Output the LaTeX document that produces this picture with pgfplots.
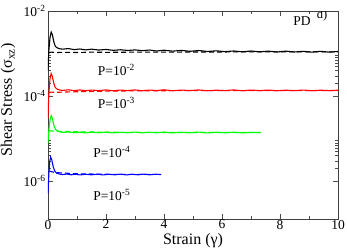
\documentclass[border=0pt]{standalone}
\usepackage{pgfplots}
\pgfplotsset{compat=1.18}
\usetikzlibrary{calc}
\usepackage{fontspec}
\setmainfont{Liberation Serif}
\definecolor{mygreen}{rgb}{0,1,0}
\begin{document}
\begin{tikzpicture}
\begin{axis}[
  name=ax,
  width=290bp, height=208bp, scale only axis,
  xmin=0, xmax=10, ymode=log, ymin=1.3e-7, ymax=1e-2,
  xtick={0,2,4,6,8,10}, minor xtick={1,3,5,7,9},
  ytick={1e-6,1e-4,1e-2},
  yticklabels={10\textsuperscript{-6},10\textsuperscript{-4},10\textsuperscript{-2}},
  minor ytick={2e-6,3e-6,4e-6,5e-6,6e-6,7e-6,8e-6,9e-6,2e-4,3e-4,4e-4,5e-4,6e-4,7e-4,8e-4,9e-4},
  tick align=inside, major tick length=5bp, minor tick length=3bp,
  tick style={black!70, line width=0.5pt},
  axis line style={black!75, line width=0.7pt},
  /pgf/number format/assume math mode=true,
  ticklabel style={font=\fontsize{13.5bp}{15bp}\selectfont},
  label style={font=\fontsize{16bp}{18bp}\selectfont},
  xlabel={Strain (γ)},
  ylabel={Shear Stress (σ\textsubscript{xz})},
  xlabel style={at={(axis description cs:0.5,0)}, anchor=base, yshift=-25.5bp},
  ylabel style={at={(axis description cs:0,0.572)}, anchor=base, yshift=36bp},
  xticklabel style={yshift=2.5bp},
  yticklabel style={xshift=1bp},
  every axis plot/.append style={line width=1.1pt},
  clip=true,
]
% black P=1e-2
\addplot[black] coordinates {
(0,4e-4) (0.03,1.2e-3) (0.07,2.4e-3) (0.11,3.2e-3) (0.15,2.8e-3) (0.2,1.9e-3) (0.25,1.5e-3) (0.3,1.38e-3) (0.4,1.3e-3) (0.5,1.27e-3) (0.7,1.31e-3) (0.9,1.24e-3) (1.1,1.28e-3) (1.3,1.22e-3) (1.5,1.27e-3) (1.75,1.21e-3) (2.0,1.25e-3) (2.25,1.19e-3) (2.5,1.23e-3) (2.75,1.18e-3) (3.0,1.22e-3) (3.25,1.17e-3) (3.5,1.21e-3) (3.75,1.15e-3) (4.0,1.2e-3) (4.3,1.14e-3) (4.6,1.19e-3) (4.9,1.13e-3) (5.2,1.18e-3) (5.5,1.12e-3) (5.8,1.16e-3) (6.1,1.11e-3) (6.4,1.15e-3) (6.7,1.1e-3) (7.0,1.15e-3) (7.3,1.1e-3) (7.6,1.14e-3) (7.9,1.09e-3) (8.2,1.14e-3) (8.5,1.09e-3) (8.8,1.13e-3) (9.1,1.08e-3) (9.4,1.13e-3) (9.7,1.08e-3) (10,1.12e-3)
};
\addplot[black, dash pattern=on 5bp off 3bp] coordinates {
(0.04,1.05e-3) (0.1,1.08e-3) (0.3,1.06e-3) (0.6,1.07e-3) (1.0,1.06e-3) (1.5,1.08e-3) (2.0,1.07e-3) (3,1.08e-3) (4,1.08e-3) (5,1.09e-3) (6,1.09e-3) (7,1.1e-3) (8,1.1e-3) (9,1.1e-3) (10,1.1e-3)
};
% red P=1e-3
\addplot[red] coordinates {
(0,3e-5) (0.03,1.2e-4) (0.07,2.6e-4) (0.11,3.4e-4) (0.15,2.9e-4) (0.2,2.0e-4) (0.25,1.6e-4) (0.3,1.48e-4) (0.4,1.4e-4) (0.5,1.36e-4) (0.7,1.41e-4) (0.9,1.35e-4) (1.1,1.4e-4) (1.3,1.34e-4) (1.5,1.39e-4) (1.75,1.35e-4) (2.0,1.4e-4) (2.25,1.34e-4) (2.5,1.39e-4) (2.75,1.35e-4) (3.0,1.4e-4) (3.25,1.34e-4) (3.5,1.39e-4) (3.75,1.35e-4) (4.0,1.41e-4) (4.3,1.34e-4) (4.6,1.39e-4) (4.9,1.35e-4) (5.2,1.4e-4) (5.5,1.34e-4) (5.8,1.38e-4) (6.1,1.35e-4) (6.4,1.4e-4) (6.7,1.34e-4) (7.0,1.39e-4) (7.3,1.35e-4) (7.6,1.39e-4) (7.9,1.34e-4) (8.2,1.38e-4) (8.5,1.35e-4) (8.8,1.39e-4) (9.1,1.34e-4) (9.4,1.38e-4) (9.7,1.35e-4) (10,1.38e-4)
};
\addplot[red, dash pattern=on 5bp off 3bp] coordinates {
(0.04,1.2e-4) (0.1,1.24e-4) (0.3,1.23e-4) (0.6,1.25e-4) (1.0,1.27e-4) (1.5,1.29e-4) (2.0,1.31e-4) (3,1.33e-4) (4,1.34e-4) (5,1.35e-4) (6,1.35e-4) (7,1.35e-4) (8,1.35e-4) (9,1.35e-4) (10,1.35e-4)
};
% green P=1e-4
\addplot[mygreen] coordinates {
(0,8e-6) (0.03,1.6e-5) (0.07,2.8e-5) (0.11,3.5e-5) (0.15,3.0e-5) (0.2,2.1e-5) (0.25,1.7e-5) (0.3,1.55e-5) (0.4,1.45e-5) (0.5,1.41e-5) (0.7,1.44e-5) (0.9,1.38e-5) (1.1,1.42e-5) (1.3,1.37e-5) (1.5,1.42e-5) (1.75,1.38e-5) (2.0,1.43e-5) (2.25,1.37e-5) (2.5,1.41e-5) (2.75,1.38e-5) (3.0,1.43e-5) (3.25,1.37e-5) (3.5,1.42e-5) (3.75,1.38e-5) (4.0,1.43e-5) (4.3,1.37e-5) (4.6,1.42e-5) (4.9,1.38e-5) (5.2,1.43e-5) (5.5,1.37e-5) (5.8,1.42e-5) (6.1,1.38e-5) (6.4,1.42e-5) (6.7,1.37e-5) (7.0,1.41e-5) (7.35,1.39e-5)
};
\addplot[mygreen, dash pattern=on 5bp off 3bp] coordinates {
(0.04,1.55e-5) (0.1,1.52e-5) (0.3,1.5e-5) (0.6,1.48e-5) (1.0,1.46e-5) (1.5,1.44e-5) (2.0,1.42e-5) (3,1.41e-5) (4,1.4e-5) (5,1.4e-5) (6,1.4e-5) (7.3,1.4e-5)
};
% blue P=1e-5
\addplot[blue] coordinates {
(0,5.2e-7) (0.03,1.5e-6) (0.06,2.9e-6) (0.09,3.7e-6) (0.13,3.2e-6) (0.18,2.2e-6) (0.23,1.75e-6) (0.3,1.55e-6) (0.4,1.48e-6) (0.5,1.44e-6) (0.65,1.48e-6) (0.8,1.42e-6) (0.95,1.47e-6) (1.1,1.41e-6) (1.3,1.46e-6) (1.5,1.42e-6) (1.7,1.47e-6) (1.9,1.41e-6) (2.1,1.46e-6) (2.3,1.42e-6) (2.5,1.47e-6) (2.7,1.41e-6) (2.9,1.46e-6) (3.1,1.42e-6) (3.3,1.47e-6) (3.5,1.42e-6) (3.7,1.46e-6) (3.9,1.44e-6)
};
\addplot[blue, dash pattern=on 5bp off 3bp] coordinates {
(0.04,1.75e-6) (0.1,1.7e-6) (0.2,1.63e-6) (0.4,1.58e-6) (0.7,1.54e-6) (1.0,1.5e-6) (1.5,1.48e-6) (2.0,1.46e-6) (3,1.45e-6) (3.9,1.45e-6)
};
\node[font=\fontsize{13.5bp}{15bp}\selectfont] at (axis cs:2.36,4.1e-4) {P=10\textsuperscript{-2}};
\node[font=\fontsize{13.5bp}{15bp}\selectfont] at (axis cs:2.36,6.9e-5) {P=10\textsuperscript{-3}};
\node[font=\fontsize{13.5bp}{15bp}\selectfont] at (axis cs:2.2,4.8e-6) {P=10\textsuperscript{-4}};
\node[font=\fontsize{13.5bp}{15bp}\selectfont] at (axis cs:2.2,4.7e-7) {P=10\textsuperscript{-5}};
\node[font=\fontsize{13.5bp}{15bp}\selectfont] at (axis cs:8.76,5.9e-3) {PD};
\node[font=\fontsize{12.5bp}{13bp}\selectfont] at (axis cs:9.45,7.7e-3) {d)};
\end{axis}
\pgfresetboundingbox
\path (ax.south west) ++(-48bp,-33bp) rectangle ($(ax.north east)+(9bp,11bp)$);
\end{tikzpicture}
\end{document}
